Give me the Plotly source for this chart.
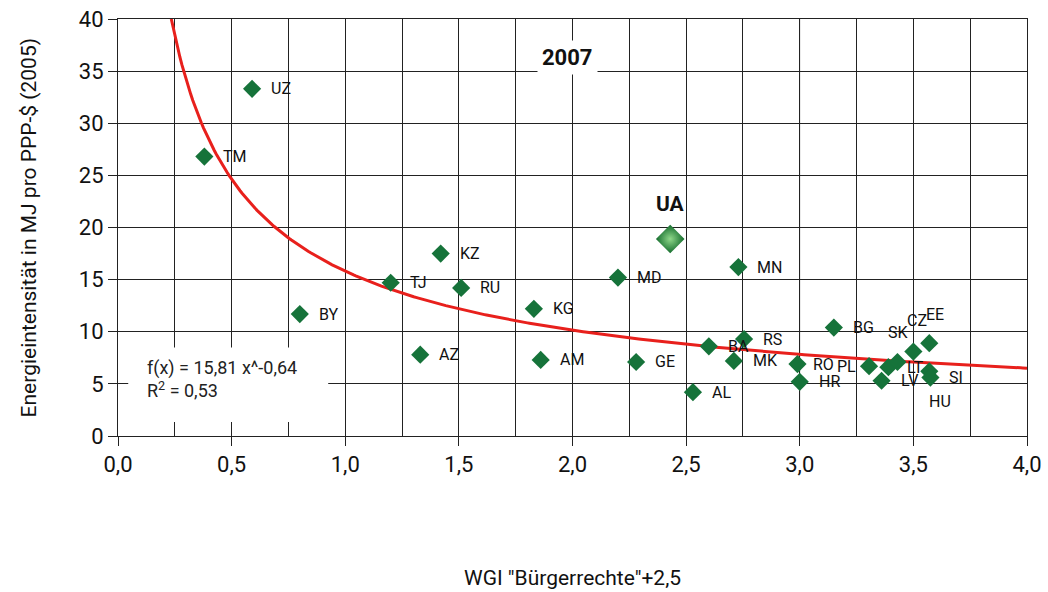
import plotly.graph_objects as go
import numpy as np

# ---- data ----
countries = ["UZ", "TM", "BY", "TJ", "KZ", "RU", "AZ", "KG", "AM", "MD", "GE", "MN",
             "AL", "BA", "RS", "MK", "RO", "HR", "BG", "PL", "LV", "LT", "SK", "CZ",
             "EE", "SI", "HU"]
wgi = [0.59, 0.38, 0.80, 1.20, 1.42, 1.51, 1.33, 1.83, 1.86, 2.20, 2.28, 2.73,
       2.53, 2.60, 2.755, 2.71, 2.99, 3.00, 3.15, 3.305, 3.36, 3.39, 3.43, 3.50,
       3.57, 3.57, 3.575]
energy = [33.3, 26.8, 11.7, 14.7, 17.5, 14.2, 7.8, 12.2, 7.3, 15.2, 7.1, 16.2,
          4.2, 8.6, 9.3, 7.2, 6.9, 5.2, 10.4, 6.7, 5.3, 6.6, 7.1, 8.1,
          8.9, 6.2, 5.6]
ua_name = "UA"
ua_wgi = 2.43
ua_energy = 18.9

fit_a = 15.81
fit_b = -0.64
r2 = 0.53
year = "2007"

# ---- label offsets (pixels) ----
label_off = {"RO": (14, 0, "left"), "PL": (-11, 0, "right"), "SK": (-11, -29, "left"),
             "CZ": (-8, -31, "left"), "EE": (-5, -29, "left"), "SI": (18, 6, "left"),
             "HU": (-3, 24, "left")}

FONT = "Roboto, Lato, sans-serif"
GREEN = "#16733a"

fig = go.Figure()

# fitted curve
xc = np.linspace((fit_a / 40.0) ** (1 / -fit_b), 4.0, 400)
fig.add_trace(go.Scatter(x=xc, y=fit_a * xc ** fit_b, mode="lines",
                         line=dict(color="#e8201c", width=3), hoverinfo="skip"))

fig.add_trace(go.Scatter(x=wgi, y=energy, mode="markers",
                         marker=dict(symbol="diamond", size=14, color=GREEN,
                                     line=dict(width=0)), hoverinfo="text",
                         text=countries))

fig.add_trace(go.Scatter(x=[ua_wgi], y=[ua_energy], mode="markers",
                         marker=dict(symbol="diamond", size=22, color="#136b2c",
                                     gradient=dict(type="radial", color="#8fd88a"),
                                     line=dict(width=0)), hoverinfo="text",
                         text=[ua_name]))

annotations = []
for c, x, y in zip(countries, wgi, energy):
    dx, dy, anchor = label_off.get(c, (17, 0, "left"))
    annotations.append(dict(x=x, y=y, xref="x", yref="y", text=c, showarrow=False,
                            xanchor=anchor, yanchor="middle", xshift=dx, yshift=-dy,
                            font=dict(family=FONT, size=16, color="#111")))

annotations.append(dict(x=ua_wgi, y=ua_energy, xref="x", yref="y", text="<b>" + ua_name + "</b>",
                        showarrow=False, xanchor="center", yanchor="middle", yshift=35,
                        font=dict(family=FONT, size=21, color="#111")))

annotations.append(dict(x=1.98, y=36.3, xref="x", yref="y", text="<b>" + year + "</b>",
                        showarrow=False, xanchor="center", yanchor="middle",
                        bgcolor="white", borderpad=4,
                        font=dict(family=FONT, size=22, color="#111")))

annotations.append(dict(x=0.12, y=5.5, xref="x", yref="y",
                        text=f"f(x) = {fit_a:.2f} x^{fit_b:.2f}".replace(".", ",")
                        + "<br>R<sup>2</sup> = " + f"{r2:.2f}".replace(".", ","),
                        showarrow=False, xanchor="left", yanchor="middle", align="left",
                        font=dict(family=FONT, size=18, color="#222")))

annotations.append(dict(x=0.5, y=-0.34, xref="paper", yref="paper",
                        text='WGI "Bürgerrechte"+2,5', showarrow=False,
                        xanchor="center", yanchor="middle",
                        font=dict(family=FONT, size=21, color="#111")))
annotations.append(dict(x=-0.098, y=0.5, xref="paper", yref="paper",
                        text="Energieintensität in MJ pro PPP-$ (2005)", showarrow=False,
                        textangle=-90, xanchor="center", yanchor="middle",
                        font=dict(family=FONT, size=21, color="#111")))

shapes = [
    dict(type="rect", xref="x", yref="y", x0=0.045, x1=0.925, y0=1.35, y1=8.5,
         fillcolor="white", line=dict(width=0), layer="between"),
    dict(type="line", xref="x", yref="paper", x0=3.0, x1=3.0, y0=0, y1=1,
         line=dict(color="white", width=3), layer="between"),
    dict(type="line", xref="x", yref="paper", x0=3.0, x1=3.0, y0=0, y1=1,
         line=dict(color="#aaaaaa", width=1), layer="between"),
]

fig.update_layout(
    width=1048, height=592,
    margin=dict(l=118, r=21, t=19, b=156),
    paper_bgcolor="white", plot_bgcolor="white",
    showlegend=False,
    separators=", ",
    annotations=annotations,
    shapes=shapes,
    xaxis=dict(range=[0, 4], dtick=0.5, tick0=0, tickformat=".1f",
               showgrid=True, gridcolor="#222", gridwidth=1,
               minor=dict(dtick=0.25, showgrid=True, gridcolor="#222", gridwidth=1),
               ticks="outside", ticklen=9, tickcolor="#222",
               showline=True, linecolor="#222", linewidth=1, mirror=True,
               zeroline=False, automargin=False,
               tickfont=dict(family=FONT, size=22, color="#111")),
    yaxis=dict(range=[0, 40], dtick=5, tick0=0,
               showgrid=True, gridcolor="#222", gridwidth=1,
               ticks="outside", ticklen=9, tickcolor="#222",
               showline=True, linecolor="#222", linewidth=1, mirror=True,
               zeroline=False, automargin=False,
               tickfont=dict(family=FONT, size=22, color="#111")),
)

fig.write_html("out.html")
